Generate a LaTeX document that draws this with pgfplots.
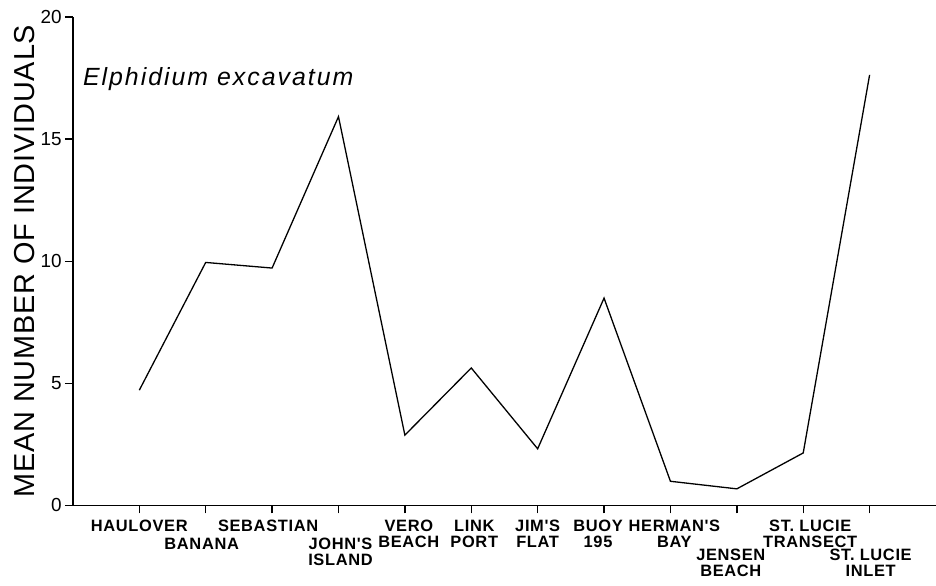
\documentclass[border=0pt]{standalone}
\usepackage{pgfplots}
\pgfplotsset{compat=1.18}
\usepackage{fontspec}
\setmainfont{Liberation Sans}
\newfontfamily\titlefont[LetterSpace=8]{Liberation Sans}
\newfontfamily\ylabfont[LetterSpace=3]{Liberation Sans}
\newfontfamily\catfont[LetterSpace=4]{Liberation Sans}
\newcommand\lab[3][0bp]{\hspace*{#1}\begin{tabular}[t]{@{}c@{}}\rule{0pt}{#2}#3\end{tabular}}
\begin{document}
\begin{tikzpicture}
\begin{axis}[
  scale only axis, width=864bp, height=489bp,
  xmin=0, xmax=13, ymin=0, ymax=20,
  axis x line*=bottom, axis y line*=left,
  axis line style={line width=1.6bp, -},
  xtick={1,...,12}, ytick={0,5,10,15,20},
  tick align=outside, major tick length=8bp,
  tick style={line width=1.4bp, black},
  xticklabels={
    {\lab{18bp}{HAULOVER}},
    {\lab[-8bp]{36bp}{BANANA}},
    {\lab[-8bp]{18bp}{SEBASTIAN}},
    {\lab[4bp]{36bp}{JOHN'S\\ISLAND}},
    {\lab[8bp]{18bp}{VERO\\BEACH}},
    {\lab[6bp]{18bp}{LINK\\PORT}},
    {\lab{18bp}{JIM'S\\FLAT}},
    {\lab[-12bp]{18bp}{BUOY\\195}},
    {\lab[8bp]{18bp}{HERMAN'S\\BAY}},
    {\lab[-12bp]{47bp}{JENSEN\\BEACH}},
    {\lab[14bp]{18bp}{ST. LUCIE\\TRANSECT}},
    {\lab[2bp]{47bp}{ST. LUCIE\\INLET}}},
  xticklabel style={anchor=north, inner sep=0pt, font=\catfont\fontsize{16.5}{16}\selectfont\bfseries},
  yticklabel style={font=\fontsize{19}{20}\selectfont, inner sep=3bp},
  /pgf/number format/assume math mode=true,
  ylabel={MEAN NUMBER OF INDIVIDUALS},
  every axis y label/.style={at={(rel axis cs:0,0.5)}, xshift=-38bp, rotate=90, anchor=base, font=\ylabfont\fontsize{29}{32}\selectfont},
  clip=false,
]
\addplot[black, line width=1.3bp, mark=none] coordinates {
  (1,4.72) (2,9.95) (3,9.72) (4,15.92) (5,2.88) (6,5.63)
  (7,2.32) (8,8.49) (9,0.99) (10,0.68) (11,2.15) (12,17.63)};
\node[anchor=base west, font=\titlefont\itshape\fontsize{25}{27}\selectfont, inner sep=0pt] at (axis cs:0.15,17.2) {Elphidium excavatum};
\coordinate (SW) at (rel axis cs:0,0);
\coordinate (NE) at (rel axis cs:1,1);
\end{axis}
\pgfresetboundingbox
\path[use as bounding box] ([xshift=-73bp,yshift=-80bp]SW) rectangle ([xshift=0bp,yshift=17bp]NE);
\end{tikzpicture}
\end{document}
